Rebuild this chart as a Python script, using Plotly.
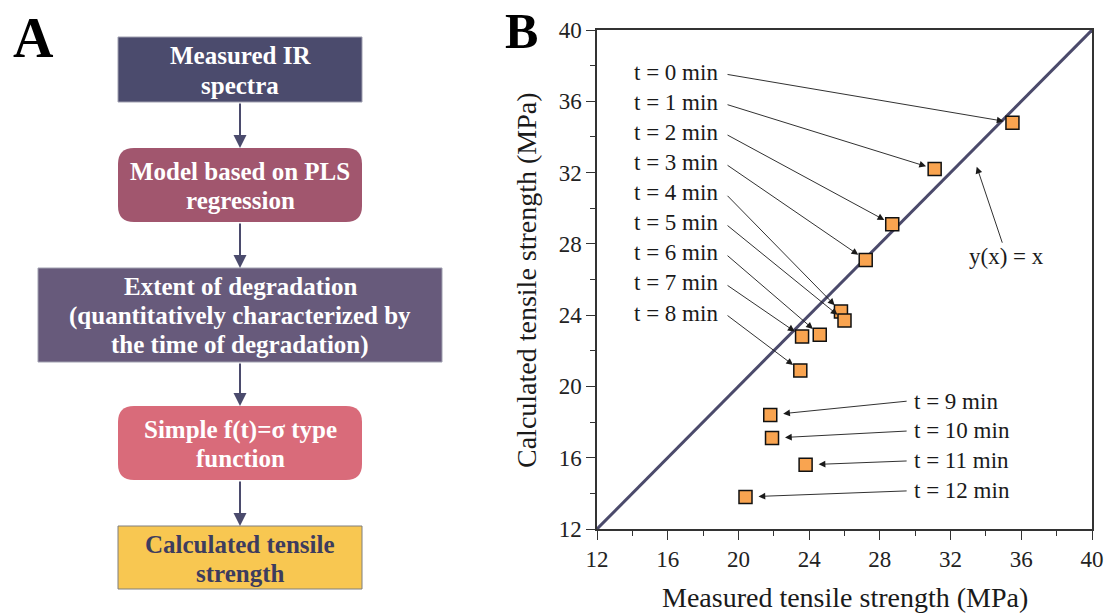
import plotly.graph_objects as go

# ---------------- data ----------------
time_labels = ["t = 0 min", "t = 1 min", "t = 2 min", "t = 3 min", "t = 4 min",
               "t = 5 min", "t = 6 min", "t = 7 min", "t = 8 min",
               "t = 9 min", "t = 10 min", "t = 11 min", "t = 12 min"]
measured = [35.5, 31.1, 28.7, 27.2, 25.8, 26.0, 24.6, 23.6, 23.5, 21.8, 21.9, 23.8, 20.4]
calculated = [34.8, 32.2, 29.1, 27.1, 24.2, 23.7, 22.9, 22.8, 20.9, 18.4, 17.1, 15.6, 13.8]
axis_ticks = [12, 16, 20, 24, 28, 32, 36, 40]

flow_steps = [
    ["Measured IR", "spectra"],
    ["Model based on PLS", "regression"],
    ["Extent of degradation", "(quantitatively characterized by", "the time of degradation)"],
    ["Simple f(t)=\u03c3 type", "function"],
    ["Calculated tensile", "strength"],
]

# ---------------- layout helpers ----------------
W, H = 1107, 613
def px(x):
    return x / W
def py(y):
    return 1 - y / H

# plot area in pixels
X0, X1, Y0, Y1 = 597, 1092, 30, 529

SERIF = "Liberation Serif, Times New Roman, serif"

fig = go.Figure()

fig.add_trace(go.Scatter(
    x=[12, 40], y=[12, 40], mode="lines",
    line=dict(color="#4b4a6b", width=3), hoverinfo="skip", showlegend=False))

fig.add_trace(go.Scatter(
    x=measured, y=calculated, mode="markers", text=time_labels,
    marker=dict(symbol="square", size=13, color="#F9A450",
                line=dict(color="#111111", width=1.5)),
    showlegend=False))

annotations = []
shapes = []

# ---- labels with arrows (panel B) ----
left_x = 13.98
left_y0, left_step = 37.6, 1.685
tail_left_x = 19.3
right_x = 29.8
right_y0, right_step = 19.18, 1.68
tail_right_x = 29.6
for i, lab in enumerate(time_labels):
    if i <= 8:
        ly = left_y0 - i * left_step
        annotations.append(dict(x=left_x, y=ly, xref="x", yref="y", text=lab,
                                showarrow=False, xanchor="left", yanchor="middle",
                                font=dict(family=SERIF, size=23, color="#1a1a1a")))
        annotations.append(dict(x=measured[i], y=calculated[i], xref="x", yref="y",
                                ax=tail_left_x, ay=ly - 0.08, axref="x", ayref="y",
                                text="", showarrow=True, arrowhead=2, arrowsize=1.5,
                                arrowwidth=0.9, arrowcolor="#1a1a1a", standoff=9))
    else:
        j = i - 9
        ly = right_y0 - j * right_step
        annotations.append(dict(x=right_x, y=ly, xref="x", yref="y", text=lab,
                                showarrow=False, xanchor="left", yanchor="middle",
                                font=dict(family=SERIF, size=23, color="#1a1a1a")))
        annotations.append(dict(x=measured[i], y=calculated[i], xref="x", yref="y",
                                ax=tail_right_x, ay=ly, axref="x", ayref="y",
                                text="", showarrow=True, arrowhead=2, arrowsize=1.5,
                                arrowwidth=0.9, arrowcolor="#1a1a1a", standoff=13))

annotations.append(dict(x=33.48, y=32.33, xref="x", yref="y",
                        ax=35.19, ay=27.28, axref="x", ayref="y",
                        text="y(x) = x", showarrow=True, arrowhead=2, arrowsize=1.5,
                        arrowwidth=0.9, arrowcolor="#1a1a1a",
                        font=dict(family=SERIF, size=23, color="#1a1a1a")))

# axis titles
annotations.append(dict(x=px((X0 + X1) / 2), y=py(597), xref="paper", yref="paper",
                        text="Measured tensile strength (MPa)", showarrow=False,
                        xanchor="center", yanchor="middle",
                        font=dict(family=SERIF, size=28, color="#1a1a1a")))
annotations.append(dict(x=px(527), y=py(280), xref="paper", yref="paper",
                        text="Calculated tensile strength (MPa)", showarrow=False,
                        textangle=-90, xanchor="center", yanchor="middle",
                        font=dict(family=SERIF, size=28, color="#1a1a1a")))

# panel letters
annotations.append(dict(x=px(33), y=py(38), xref="paper", yref="paper", text="<b>A</b>",
                        showarrow=False, xanchor="center", yanchor="middle",
                        font=dict(family=SERIF, size=56, color="#000000")))
annotations.append(dict(x=px(521), y=py(31), xref="paper", yref="paper", text="<b>B</b>",
                        showarrow=False, xanchor="center", yanchor="middle",
                        font=dict(family=SERIF, size=50, color="#000000")))

# ---------------- flowchart (panel A) ----------------
boxes = [  # x0, y0, x1, y1 (px), fill, rounded, text color, border
    (118, 37, 362, 102, "#4b4b6d", False, "#ffffff", "#a0a0b0"),
    (118, 148, 362, 222, "#a1566e", True, "#ffffff", None),
    (38, 268, 442, 362, "#675a7b", False, "#ffffff", "#a0a0b0"),
    (118, 406, 362, 480, "#d96b7a", True, "#ffffff", None),
    (118, 526, 362, 589, "#f8c751", False, "#3d3c5e", "#7f7f7f"),
]

def rrect_path(x0, y0, x1, y1, r):
    pts = []
    pts.append(f"M {px(x0 + r)},{py(y0)}")
    pts.append(f"L {px(x1 - r)},{py(y0)}")
    pts.append(f"Q {px(x1)},{py(y0)} {px(x1)},{py(y0 + r)}")
    pts.append(f"L {px(x1)},{py(y1 - r)}")
    pts.append(f"Q {px(x1)},{py(y1)} {px(x1 - r)},{py(y1)}")
    pts.append(f"L {px(x0 + r)},{py(y1)}")
    pts.append(f"Q {px(x0)},{py(y1)} {px(x0)},{py(y1 - r)}")
    pts.append(f"L {px(x0)},{py(y0 + r)}")
    pts.append(f"Q {px(x0)},{py(y0)} {px(x0 + r)},{py(y0)}")
    pts.append("Z")
    return " ".join(pts)

line_gap = 29
for (x0, y0, x1, y1, fill, rounded, tcol, border), lines in zip(boxes, flow_steps):
    if rounded:
        shapes.append(dict(type="path", xref="paper", yref="paper",
                           path=rrect_path(x0, y0, x1, y1, 16),
                           fillcolor=fill, line=dict(width=0), layer="below"))
    else:
        shapes.append(dict(type="rect", xref="paper", yref="paper",
                           x0=px(x0), x1=px(x1), y0=py(y0), y1=py(y1),
                           fillcolor=fill,
                           line=dict(width=1 if border else 0, color=border or fill),
                           layer="below"))
    cy = (y0 + y1) / 2
    n = len(lines)
    for k, t in enumerate(lines):
        ly = cy + (k - (n - 1) / 2) * line_gap + 1
        annotations.append(dict(x=px((x0 + x1) / 2), y=py(ly), xref="paper", yref="paper",
                                text=f"<b>{t}</b>", showarrow=False,
                                xanchor="center", yanchor="middle",
                                font=dict(family=SERIF, size=25, color=tcol)))

# connecting arrows
for (a, b) in zip(boxes[:-1], boxes[1:]):
    y_from = a[3]
    y_to = b[1]
    annotations.append(dict(x=px(240), y=py(y_to), xref="paper", yref="paper",
                            ax=0, ay=-(y_to - y_from), text="", showarrow=True,
                            arrowhead=2, arrowsize=1.3, arrowwidth=2,
                            arrowcolor="#4b4b6d"))

axis_common = dict(
    showline=True, linecolor="#333333", linewidth=1.5, mirror=True,
    ticks="outside", ticklen=9, tickwidth=1.3, tickcolor="#333333",
    tickvals=axis_ticks, ticktext=[str(v) for v in axis_ticks],
    range=[12, 40], showgrid=False, zeroline=False,
    tickfont=dict(family=SERIF, size=23, color="#222222"),
    minor=dict(ticks="outside", ticklen=5, tickwidth=1.2, tickcolor="#333333", dtick=2,
               showgrid=False),
    automargin=False,
)

fig.update_layout(
    width=W, height=H,
    margin=dict(l=0, r=0, t=0, b=0, pad=0),
    paper_bgcolor="white", plot_bgcolor="rgba(0,0,0,0)",
    xaxis=dict(domain=[px(X0), px(X1)], **axis_common),
    yaxis=dict(domain=[py(Y1), py(Y0)], **axis_common),
    annotations=annotations, shapes=shapes,
    template="none",
    showlegend=False,
)

fig.write_html("out.html",
               config={"displayModeBar": False},
               post_script="document.body.style.margin='0';document.body.style.overflow='hidden';")
